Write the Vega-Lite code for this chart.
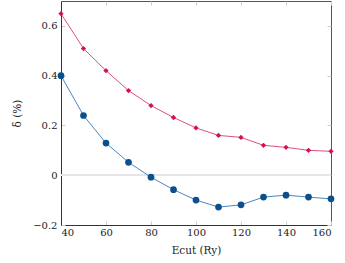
{
  "$schema": "https://vega.github.io/schema/vega-lite/v6.json",
  "width": 270,
  "height": 224,
  "autosize": "none",
  "padding": {"left": 61, "top": 1, "right": 14, "bottom": 38},
  "config": {
    "view": {"stroke": "#555", "strokeWidth": 1},
    "font": "DejaVu Serif",
    "axis": {"labelFont": "DejaVu Serif", "titleFont": "DejaVu Serif", "labelFontSize": 10, "titleFontSize": 10.5, "titleFontWeight": "normal", "labelColor": "#222", "titleColor": "#222", "grid": false, "domainColor": "#333", "tickColor": "#ccc", "tickSize": -4, "tickWidth": 1}
  },
  "data": {"values": [
    {"E": 40, "delta": 0.649, "series": "A"},
    {"E": 50, "delta": 0.509, "series": "A"},
    {"E": 60, "delta": 0.42, "series": "A"},
    {"E": 70, "delta": 0.34, "series": "A"},
    {"E": 80, "delta": 0.28, "series": "A"},
    {"E": 90, "delta": 0.232, "series": "A"},
    {"E": 100, "delta": 0.19, "series": "A"},
    {"E": 110, "delta": 0.16, "series": "A"},
    {"E": 120, "delta": 0.152, "series": "A"},
    {"E": 130, "delta": 0.12, "series": "A"},
    {"E": 140, "delta": 0.112, "series": "A"},
    {"E": 150, "delta": 0.1, "series": "A"},
    {"E": 160, "delta": 0.096, "series": "A"},
    {"E": 40, "delta": 0.40, "series": "B"},
    {"E": 50, "delta": 0.24, "series": "B"},
    {"E": 60, "delta": 0.129, "series": "B"},
    {"E": 70, "delta": 0.052, "series": "B"},
    {"E": 80, "delta": -0.008, "series": "B"},
    {"E": 90, "delta": -0.058, "series": "B"},
    {"E": 100, "delta": -0.1, "series": "B"},
    {"E": 110, "delta": -0.128, "series": "B"},
    {"E": 120, "delta": -0.119, "series": "B"},
    {"E": 130, "delta": -0.088, "series": "B"},
    {"E": 140, "delta": -0.08, "series": "B"},
    {"E": 150, "delta": -0.088, "series": "B"},
    {"E": 160, "delta": -0.095, "series": "B"}
  ]},
  "resolve": {"axis": {"x": "independent", "y": "independent"}},
  "layer": [
    {
      "mark": {"type": "rule", "color": "#e6e6e6", "strokeWidth": 1},
      "encoding": {
        "y": {"datum": 0, "type": "quantitative", "scale": {"domain": [-0.2, 0.7], "nice": false, "zero": false},
              "axis": {"orient": "right", "labels": false, "domain": false, "title": null, "values": [-0.2, 0, 0.2, 0.4, 0.6]}}
      }
    },
    {
      "mark": {"type": "line", "strokeWidth": 1},
      "encoding": {
        "x": {"field": "E", "type": "quantitative", "scale": {"domain": [40, 160], "nice": false, "zero": false},
              "axis": {"orient": "top", "labels": false, "domain": false, "title": null, "values": [40, 60, 80, 100, 120, 140, 160]}},
        "y": {"field": "delta", "type": "quantitative", "scale": {"domain": [-0.2, 0.7], "nice": false, "zero": false}, "axis": null},
        "stroke": {"field": "series", "type": "nominal", "scale": {"domain": ["A", "B"], "range": ["#e0507a", "#4a86c0"]}, "legend": null}
      }
    },
    {
      "mark": {"type": "point", "filled": true, "opacity": 1},
      "encoding": {
        "x": {"field": "E", "type": "quantitative", "scale": {"domain": [40, 160], "nice": false, "zero": false},
              "axis": {"orient": "bottom", "title": "Ecut (Ry)", "values": [40, 60, 80, 100, 120, 140, 160], "labelPadding": 6, "titlePadding": 8}},
        "y": {"field": "delta", "type": "quantitative", "scale": {"domain": [-0.2, 0.7], "nice": false, "zero": false},
              "axis": {"orient": "left", "title": "δ (%)", "values": [-0.2, 0, 0.2, 0.4, 0.6], "format": ".1~f", "labelPadding": 8, "titlePadding": 10}},
        "fill": {"field": "series", "type": "nominal", "scale": {"domain": ["A", "B"], "range": ["#d3134a", "#0b4f8c"]}, "legend": null},
        "shape": {"field": "series", "type": "nominal", "scale": {"domain": ["A", "B"], "range": ["diamond", "circle"]}, "legend": null},
        "size": {"field": "series", "type": "nominal", "scale": {"domain": ["A", "B"], "range": [28, 45]}, "legend": null}
      }
    }
  ]
}
